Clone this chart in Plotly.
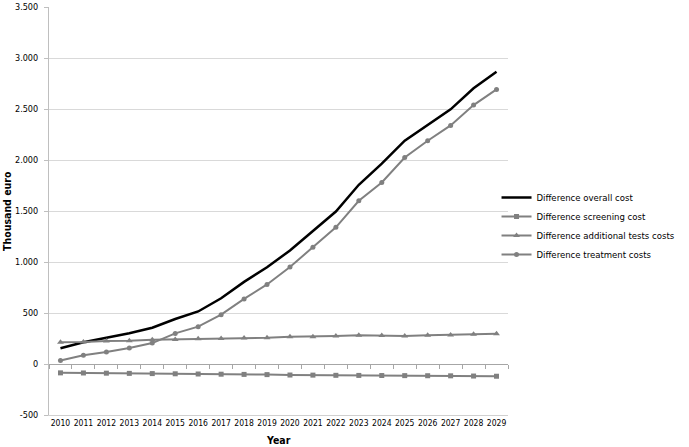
import plotly.graph_objects as go

years = list(range(2010, 2030))
overall = [155, 213, 258, 301, 356, 441, 515, 644, 805, 948, 1113, 1300, 1495, 1757, 1965, 2190, 2342, 2497, 2703, 2866]
screening = [-87, -88, -90, -92, -94, -96, -98, -100, -102, -104, -108, -109, -111, -112, -113, -114, -115, -116, -118, -120]
additional = [213, 215, 226, 228, 238, 241, 248, 250, 255, 258, 268, 268, 274, 281, 279, 274, 281, 284, 291, 297]
treatment = [35, 85, 118, 157, 205, 300, 366, 484, 638, 780, 951, 1144, 1340, 1600, 1780, 2025, 2189, 2339, 2538, 2692]

names = ["Difference overall cost", "Difference screening cost",
         "Difference additional tests costs", "Difference treatment costs"]
y_ticks = [-500, 0, 500, 1000, 1500, 2000, 2500, 3000, 3500]
y_ticktext = [f"{v:,}".replace(",", ".") for v in y_ticks]

FONT = "DejaVu Sans Condensed, DejaVu Sans, sans-serif"
GREY = "#808080"

fig = go.Figure()
fig.add_trace(go.Scatter(x=years, y=overall, name=names[0], mode="lines",
                         line=dict(color="black", width=2.5)))
fig.add_trace(go.Scatter(x=years, y=screening, name=names[1], mode="lines+markers",
                         line=dict(color=GREY, width=2),
                         marker=dict(symbol="square", size=5, color=GREY)))
fig.add_trace(go.Scatter(x=years, y=additional, name=names[2], mode="lines+markers",
                         line=dict(color=GREY, width=2),
                         marker=dict(symbol="triangle-up", size=6, color=GREY)))
fig.add_trace(go.Scatter(x=years, y=treatment, name=names[3], mode="lines+markers",
                         line=dict(color=GREY, width=2),
                         marker=dict(symbol="circle", size=5, color=GREY)))

# invisible trace on secondary x axis (zero-crossing axis with boundary ticks)
fig.add_trace(go.Scatter(x=years, y=overall, xaxis="x2", mode="lines",
                         line=dict(width=0), showlegend=False, hoverinfo="skip",
                         opacity=0))

xr = [years[0] - 0.5, years[-1] + 0.5]
boundaries = [y - 0.5 for y in years] + [years[-1] + 0.5]

fig.update_layout(
    width=689, height=447,
    margin=dict(l=49, r=181, t=7, b=32, autoexpand=False),
    paper_bgcolor="white", plot_bgcolor="white",
    font=dict(family=FONT, size=8.5, color="black"),
    showlegend=True,
    legend=dict(x=0.975, y=0.463, xanchor="left", yanchor="middle",
                font=dict(family=FONT, size=9.5, color="black"),
                bgcolor="rgba(0,0,0,0)", tracegroupgap=0),
    xaxis=dict(range=xr, tickmode="array", tickvals=years,
               ticktext=[str(y) for y in years], showgrid=False,
               showline=True, linecolor="#d0d0d0", linewidth=1,
               ticks="", zeroline=False, tickfont=dict(size=8.5),
               automargin=False),
    xaxis2=dict(range=xr, overlaying="x", anchor="free",
                position=500 / 4000, side="bottom",
                tickmode="array", tickvals=boundaries, showticklabels=False,
                ticks="outside", ticklen=4, tickcolor="#a6a6a6",
                showline=True, linecolor="#a6a6a6", linewidth=1,
                showgrid=False, zeroline=False, automargin=False),
    yaxis=dict(range=[-500, 3500], tickmode="array", tickvals=y_ticks,
               ticktext=y_ticktext, showgrid=True, gridcolor="#d9d9d9",
               gridwidth=1, zeroline=False, showline=True,
               linecolor="#bfbfbf", linewidth=1, ticks="outside",
               ticklen=4, tickcolor="#bfbfbf", tickfont=dict(size=9),
               ticklabelstandoff=4, automargin=False),
    annotations=[
        dict(text="<b>Thousand euro</b>", textangle=-90, xref="paper", yref="paper",
             x=(7 - 49) / 459, y=0.5, xanchor="center", yanchor="middle",
             showarrow=False, font=dict(family=FONT, size=10.5, color="black")),
        dict(text="<b>Year</b>", xref="paper", yref="paper",
             x=0.5, y=-25 / 408, xanchor="center", yanchor="middle",
             showarrow=False, font=dict(family=FONT, size=10.5, color="black")),
    ],
)

fig.write_html("out.html", config={"displayModeBar": False},
               post_script="document.body.style.margin='0';")
